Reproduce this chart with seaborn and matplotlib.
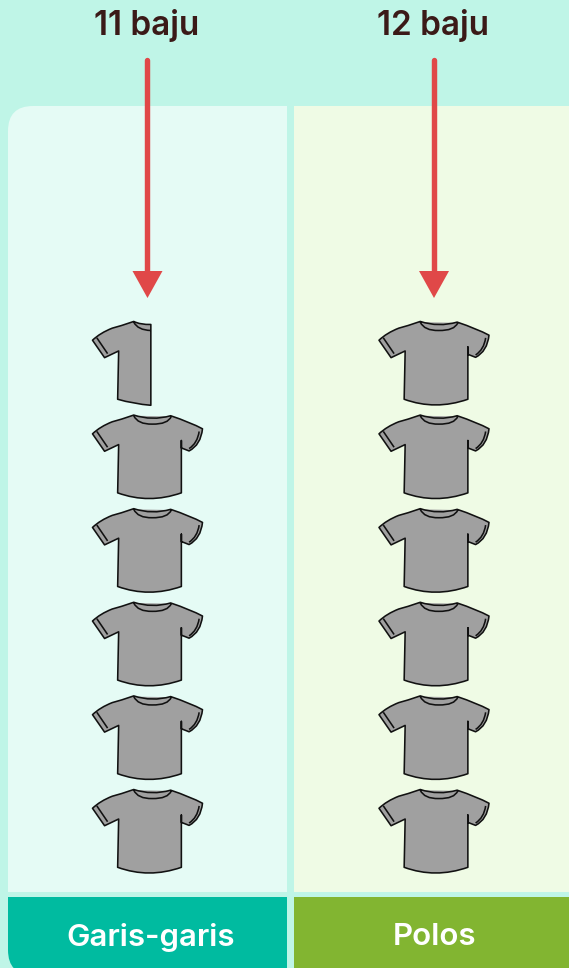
import numpy as np
import pandas as pd
import seaborn as sns
import matplotlib
matplotlib.use("Agg")
import matplotlib.pyplot as plt
from matplotlib.path import Path
from matplotlib.patches import PathPatch
from matplotlib.transforms import Affine2D, blended_transform_factory

# ---- data ----
categories = ["Garis-garis", "Polos"]
counts = [11, 12]
baju_per_icon = 2
unit_label = "baju"

# ---- style ----
BG = "#BFF5E7"
PANEL = ["#E5FBF5", "#EFFBE5"]
FOOT = ["#00BBA0", "#82B531"]
ARROW = "#E04848"
TEXT = "#3B1A18"
SHIRT = "#A0A0A0"
W, H = 569, 968
DPI = 100
FONT = "Inter"

sns.set_theme(style="white")
plt.rcParams["font.family"] = [FONT, "DejaVu Sans"]

fig = plt.figure(figsize=(W / DPI, H / DPI), dpi=DPI, facecolor=BG)
ax = fig.add_axes([0, 0, 1, 1])
ax.set_facecolor("none")
ax.set_axis_off()

# pixel-space transform for layout pieces (top-left origin)
px = Affine2D().scale(1, -1).translate(0, H)


def round_rect(x0, y0, x1, y1, tl=0, bl=0):
    v = [(x0 + tl, y0), (x1, y0), (x1, y1), (x0 + bl, y1)]
    c = [Path.MOVETO, Path.LINETO, Path.LINETO, Path.LINETO]
    if bl:
        v += [(x0, y1), (x0, y1 - bl)]
        c += [Path.CURVE3, Path.CURVE3]
    else:
        v += [(x0, y1)]
        c += [Path.LINETO]
    v += [(x0, y0 + tl)]
    c += [Path.LINETO]
    if tl:
        v += [(x0, y0), (x0 + tl, y0)]
        c += [Path.CURVE3, Path.CURVE3]
    v += [(0, 0)]
    c += [Path.CLOSEPOLY]
    return Path(v, c)


panel_x = [(8, 287), (294, 575)]
for i, (x0, x1) in enumerate(panel_x):
    ax.add_patch(PathPatch(round_rect(x0, 106, x1, 892, tl=25 if i == 0 else 0),
                           fc=PANEL[i], ec="none", transform=px, zorder=1))
    ax.add_patch(PathPatch(round_rect(x0, 897, x1, 975, bl=25 if i == 0 else 0),
                           fc=FOOT[i], ec="none", transform=px, zorder=1))


# ---- shirt glyphs (drawn in zoomed template units, centred) ----
def T(p):
    return ((p[0] - 201) / 3.0, -(p[1] - 440) / 3.0)


def shape(segments):
    verts, codes = [], []
    for seg in segments:
        code, pts = seg
        if code == "M":
            codes.append(Path.MOVETO); verts.append(T(pts[0]))
        elif code == "L":
            for q in pts:
                codes.append(Path.LINETO); verts.append(T(q))
        elif code == "Q":
            codes += [Path.CURVE3, Path.CURVE3]; verts += [T(q) for q in pts]
        elif code == "Z":
            codes.append(Path.CLOSEPOLY); verts.append((0, 0))
    return Path(verts, codes)


full_shirt = shape([
    ("M", [(160, 316)]),
    ("Q", [(120, 330), (96, 336)]),
    ("Q", [(60, 350), (37, 372)]),
    ("L", [(73, 424), (115, 404)]),
    ("L", [(112, 548)]),
    ("Q", [(205, 582), (302, 548)]),
    ("L", [(302, 392), (302, 414), (325, 423)]),
    ("Q", [(360, 405), (365, 357)]),
    ("Q", [(330, 338), (270, 318)]),
    ("Q", [(215, 334), (160, 316)]),
    ("Z", []),
    ("M", [(160, 318)]),
    ("Q", [(172, 344), (215, 343)]),
    ("Q", [(262, 344), (272, 320)]),
    ("M", [(50, 365)]),
    ("L", [(82, 412)]),
    ("M", [(325, 416)]),
    ("Q", [(350, 400), (355, 365)]),
])

half_shirt = shape([
    ("M", [(160, 316)]),
    ("Q", [(120, 330), (96, 336)]),
    ("Q", [(60, 350), (37, 372)]),
    ("L", [(73, 424), (115, 404)]),
    ("L", [(112, 548)]),
    ("Q", [(160, 562), (211, 566)]),
    ("L", [(211, 325)]),
    ("Q", [(180, 326), (160, 316)]),
    ("Z", []),
    ("M", [(160, 318)]),
    ("Q", [(172, 342), (211, 343)]),
    ("M", [(50, 365)]),
    ("L", [(82, 412)]),
])

# ---- one row per icon, built from the counts ----
rows = []
for cat, n in zip(categories, counts):
    whole, rest = divmod(n, baju_per_icon)
    for k in range(whole):
        rows.append((cat, (k + 0.5) * baju_per_icon, "full"))
    if rest:
        rows.append((cat, (whole + 0.5) * baju_per_icon, "half"))
df = pd.DataFrame(rows, columns=["kategori", "nilai", "ikon"])

sns.scatterplot(data=df, x="kategori", y="nilai", style="ikon",
                markers={"full": full_shirt, "half": half_shirt},
                s=(110 * 72 / DPI) ** 2, color=SHIRT, edgecolor="#111111",
                linewidth=1.15, legend=False, ax=ax, zorder=3, clip_on=False)

ax.set_xlim(-0.5148, 1.4712)
ax.set_ylim(-1.925, 18.756)
ax.set_xlabel("")
ax.set_ylabel("")

# ---- arrows + labels ----
blend = blended_transform_factory(ax.transData, px)
for i, (cat, n) in enumerate(zip(categories, counts)):
    ax.text(i - 0.004, 26, f"{n} {unit_label}", transform=blend, ha="center", va="center",
            fontsize=24, fontweight="semibold", color=TEXT, zorder=5)
    ax.plot([i, i], [60, 275], transform=blend, color=ARROW, lw=3.9,
            solid_capstyle="round", zorder=4)
    dx = 15 / 286.5
    ax.fill([i - dx, i + dx, i], [271, 271, 298], transform=blend, color=ARROW,
            lw=0, zorder=4)
    cx = (panel_x[i][0] + min(panel_x[i][1] + 6, W + 6)) / 2
    ax.text(cx, 937, cat, transform=px, ha="center", va="center",
            fontsize=22.5, fontweight="semibold", color="white", zorder=5)

fig.savefig("out.png", dpi=DPI, facecolor=BG)
